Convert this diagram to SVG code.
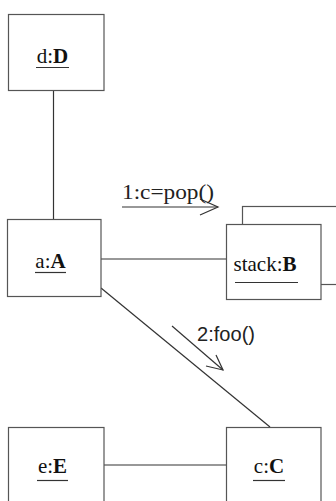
<svg xmlns="http://www.w3.org/2000/svg" width="336" height="501" viewBox="0 0 336 501">
<defs>
<style>
.box{fill:#fff;stroke:#555;stroke-width:1.2}
.ln{fill:none;stroke:#333;stroke-width:1.2}
.t{font-size:21px;fill:#111;text-anchor:middle}
.b{font-weight:bold}
.u{stroke:#333;stroke-width:1.2}
.lbl{font-size:22px;fill:#222}
.lbl2{font-size:20px;fill:#222}
</style>
</defs>
<rect width="336" height="501" fill="#fff"/>
<g id="connectors">
<line class="ln" x1="53.5" y1="91" x2="53.5" y2="220"/>
<line class="ln" x1="101" y1="259" x2="226" y2="259"/>
<line class="ln" x1="101" y1="288" x2="270" y2="427"/>
<line class="ln" x1="104" y1="465" x2="226" y2="465"/>
<g id="msg1">
<line class="ln" x1="122" y1="207" x2="218" y2="207"/>
<polyline class="ln" points="200,199 218,207 200,215"/>
<text class="lbl" font-family="Liberation Serif, DejaVu Serif, serif" x="122" y="199" textLength="92" lengthAdjust="spacingAndGlyphs">1:c=pop()</text>
</g>
<g id="msg2">
<line class="ln" x1="172" y1="326" x2="223" y2="370"/>
<polyline class="ln" points="216,355 223,370 206,366"/>
<text class="lbl2" font-family="Liberation Sans, Arial, sans-serif" x="197" y="341" textLength="58" lengthAdjust="spacingAndGlyphs">2:foo()</text>
</g>
</g>
<g id="d">
<rect class="box" x="8.5" y="14.5" width="95.5" height="76"/>
<text class="t" font-family="Liberation Serif, DejaVu Serif, serif" x="52.5" y="63">d:<tspan class="b">D</tspan></text>
<line class="u" x1="36" y1="67.5" x2="69" y2="67.5"/>
</g>
<g id="a">
<rect class="box" x="7.5" y="219.5" width="93.5" height="77"/>
<text class="t" font-family="Liberation Serif, DejaVu Serif, serif" x="50.5" y="268">a:<tspan class="b">A</tspan></text>
<line class="u" x1="35" y1="272.5" x2="66" y2="272.5"/>
</g>
<g id="stack">
<rect class="box" x="242.5" y="206.5" width="100" height="78"/>
<rect class="box" x="226.5" y="224.5" width="94.5" height="75"/>
<text class="t" font-family="Liberation Serif, DejaVu Serif, serif" x="265" y="271">stack:<tspan class="b">B</tspan></text>
<line class="u" x1="235" y1="282.5" x2="298" y2="282.5"/>
</g>
<g id="e">
<rect class="box" x="8.5" y="427.5" width="95.5" height="80"/>
<text class="t" font-family="Liberation Serif, DejaVu Serif, serif" x="52.5" y="473">e:<tspan class="b">E</tspan></text>
<line class="u" x1="37" y1="480.5" x2="68" y2="480.5"/>
</g>
<g id="c">
<rect class="box" x="226.5" y="427.5" width="94.5" height="80"/>
<text class="t" font-family="Liberation Serif, DejaVu Serif, serif" x="269" y="473">c:<tspan class="b">C</tspan></text>
<line class="u" x1="253" y1="480.5" x2="285" y2="480.5"/>
</g>
</svg>
